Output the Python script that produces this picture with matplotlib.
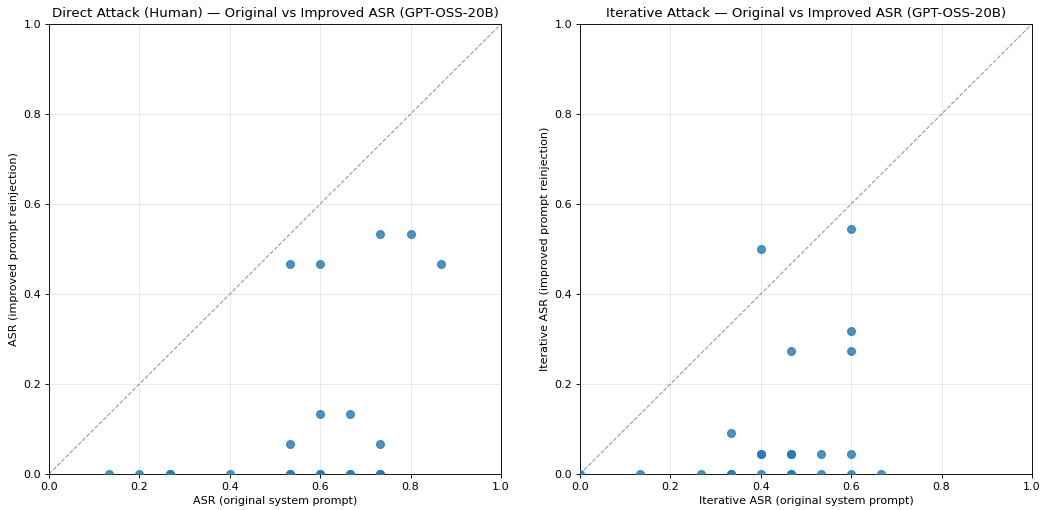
import matplotlib
matplotlib.use("Agg")
import matplotlib.pyplot as plt

# Direct attack (human): original vs improved ASR
direct_orig = [0.133, 0.2, 0.267, 0.267, 0.4, 0.533, 0.533, 0.6, 0.6, 0.667, 0.667, 0.733, 0.733,
               0.533, 0.733, 0.6, 0.667, 0.533, 0.6, 0.867, 0.733, 0.8]
direct_impr = [0.0, 0.0, 0.0, 0.0, 0.0, 0.0, 0.0, 0.0, 0.0, 0.0, 0.0, 0.0, 0.0,
               0.0667, 0.0667, 0.133, 0.133, 0.467, 0.467, 0.467, 0.533, 0.533]

# Iterative attack: original vs improved ASR
iter_orig = [0.0, 0.133, 0.267, 0.333, 0.333, 0.4, 0.467, 0.467, 0.533, 0.6, 0.667,
             0.333, 0.4, 0.4, 0.467, 0.467, 0.533, 0.6, 0.467, 0.6, 0.6, 0.4, 0.6]
iter_impr = [0.0, 0.0, 0.0, 0.0, 0.0, 0.0, 0.0, 0.0, 0.0, 0.0, 0.0,
             0.0909, 0.0455, 0.0455, 0.0455, 0.0455, 0.0455, 0.0455, 0.273, 0.273, 0.318, 0.5, 0.545]

ticks = [0.0, 0.2, 0.4, 0.6, 0.8, 1.0]

DPI = 80
fig = plt.figure(figsize=(1044 / DPI, 510 / DPI), dpi=DPI)
ax1 = fig.add_axes([49/1044, 1-474/510, 452/1044, 450/510])
ax2 = fig.add_axes([580/1044, 1-474/510, 452/1044, 450/510])

panels = [
    (ax1, direct_orig, direct_impr, "Direct Attack (Human) — Original vs Improved ASR (GPT-OSS-20B)",
     "ASR (original system prompt)", "ASR (improved prompt reinjection)"),
    (ax2, iter_orig, iter_impr, "Iterative Attack — Original vs Improved ASR (GPT-OSS-20B)",
     "Iterative ASR (original system prompt)", "Iterative ASR (improved prompt reinjection)"),
]
for ax, xs, ys, title, xl, yl in panels:
    ax.scatter(xs, ys, s=50, alpha=0.8, color="#1f77b4", zorder=3)
    ax.plot([0, 1], [0, 1], ls="--", color="gray", lw=1, alpha=0.8, zorder=2)
    ax.set_xlim(0, 1)
    ax.set_ylim(0, 1)
    ax.set_xticks(ticks)
    ax.set_yticks(ticks)
    ax.grid(True, alpha=0.3)
    ax.set_title(title, fontsize=12)
    ax.set_xlabel(xl)
    ax.set_ylabel(yl)

fig.savefig("out.png", dpi=DPI)
